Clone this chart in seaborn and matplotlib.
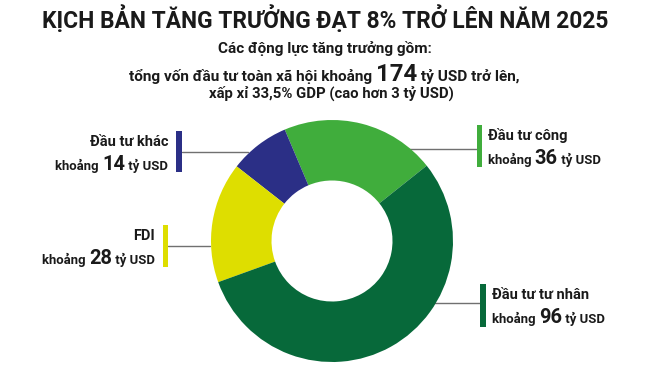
import matplotlib
matplotlib.use("Agg")
import matplotlib.pyplot as plt
import seaborn as sns
from matplotlib.patches import Rectangle

categories = ["Đầu tư công", "Đầu tư khác", "FDI", "Đầu tư tư nhân"]
values = [36, 14, 28, 96]
colors = ["#40ad3c", "#2b2f86", "#dede00", "#07693a"]

sns.set_theme(style="white")
FONT = ["Roboto", "DejaVu Sans"]
plt.rcParams["font.family"] = FONT

W, H = 650, 366
fig = plt.figure(figsize=(W / 100, H / 100), dpi=100)
fig.patch.set_facecolor("white")
ax = fig.add_axes([0, 0, 1, 1])

cx, cy, R = 332, H - 241, 121
ax.pie(values, colors=colors, startangle=38.5, counterclock=True,
       center=(cx, cy), radius=R,
       wedgeprops=dict(width=R * 0.5, edgecolor="none"))
ax.set_xlim(0, W)
ax.set_ylim(0, H)
ax.set_aspect("auto")
ax.axis("off")

def Y(y):
    return H - y

renderer = fig.canvas.get_renderer()
TXT = "#1a1a1a"

def mixed_line(x, y, parts, ha="center", width=None):
    # parts: list of (text, size); optionally scaled to fit target width
    objs = []
    for t, s in parts:
        o = ax.text(0, Y(y), t, fontsize=s, fontweight="bold", color=TXT,
                    va="baseline", ha="left")
        objs.append(o)
    widths = [o.get_window_extent(renderer).width for o in objs]
    if width is not None:
        k = width / sum(widths)
        for o, (t, s) in zip(objs, parts):
            o.set_fontsize(s * k)
        widths = [o.get_window_extent(renderer).width for o in objs]
    total = sum(widths)
    if ha == "center":
        start = x - total / 2
    elif ha == "right":
        start = x - total
    else:
        start = x
    for o, w in zip(objs, widths):
        o.set_x(start)
        start += w

# Title block
mixed_line(325.5, 28, [("KỊCH BẢN TĂNG TRƯỞNG ĐẠT 8% TRỞ LÊN NĂM 2025", 19)], width=565)
mixed_line(325, 53, [("Các động lực tăng trưởng gồm:", 11.5)], width=214)
mixed_line(324, 81, [("tổng vốn đầu tư toàn xã hội khoảng ", 11.5), ("174", 18),
                     (" tỷ USD trở lên,", 11.5)], width=391)
mixed_line(331, 97.5, [("xấp xỉ 33,5% GDP (cao hơn 3 tỷ USD)", 11.5)], width=244)

# Labels: (name, value, bar_x0, bar_x1, bar_top, bar_bot, line_y, line_x_end, side, color)
labels = [
    (categories[1], values[1], 176, 182, 131, 172, 152, 248, "left", colors[1]),
    (categories[2], values[2], 163, 168, 225, 267, 246, 210, "left", colors[2]),
    (categories[0], values[0], 477, 482, 125, 167, 149, 405, "right", colors[0]),
    (categories[3], values[3], 480, 486, 284, 327, 303, 433, "right", colors[3]),
]
for name, val, bx0, bx1, bt, bb, ly, lx, side, col in labels:
    ax.add_patch(Rectangle((bx0, Y(bb)), bx1 - bx0, bb - bt, color=col, lw=0))
    if side == "left":
        ax.plot([bx1, lx], [Y(ly), Y(ly)], color="#707070", lw=1, zorder=0.5)
        tx, ha = bx0 - 8, "right"
    else:
        ax.plot([lx, bx0], [Y(ly), Y(ly)], color="#707070", lw=1, zorder=0.5)
        tx, ha = bx1 + 6, "left"
    mixed_line(tx, bt + 15, [(name, 10.5)], ha=ha)
    mixed_line(tx, bt + 39, [("khoảng ", 10.5), (str(val), 16), (" tỷ USD", 10.5)],
               ha=ha, width=113)

fig.savefig("out.png", dpi=100, facecolor="white")
